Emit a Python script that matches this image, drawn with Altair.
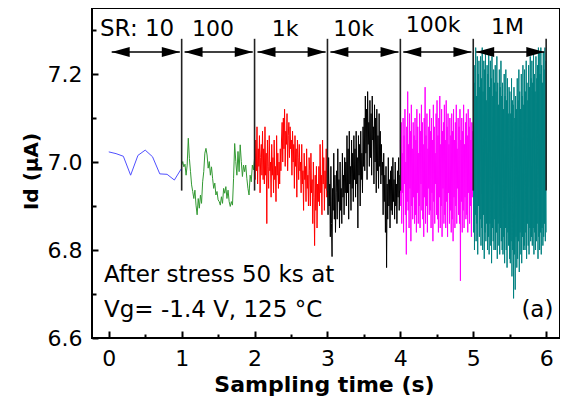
import altair as alt
import numpy as np
import pandas as pd

FONT = "DejaVu Sans"

# ---- data (Id in uA), one list per sampling-rate window ----
seg_names = ["10", "100", "1k", "10k", "100k", "1M"]
seg_colors = ["#5050ff", "#339933", "#ff0000", "#000000", "#ff00ff", "#008080"]

sr10 = [7.023, 7.019, 7.013, 6.970, 7.015, 7.027, 7.012, 6.973, 6.972, 6.959, 6.986]

sr100 = [6.993, 7.001, 6.989, 6.995, 6.970, 6.993, 7.054, 7.008, 6.978, 6.948, 6.933, 6.917,
         6.936, 6.902, 6.880, 6.917, 6.895, 6.925, 6.906, 6.955, 6.978, 7.020, 7.031, 7.016,
         6.986, 7.001, 6.970, 6.989, 6.963, 6.940, 6.952, 6.925, 6.933, 6.914, 6.910, 6.902,
         6.921, 6.906, 6.940, 6.929, 6.944, 6.917, 6.936, 6.910, 6.899, 6.910, 6.902, 6.963,
         7.042, 7.001, 6.970, 7.024, 6.978, 7.039, 7.001, 6.967, 6.993, 6.978, 6.993, 6.963,
         6.940, 6.925, 6.970, 6.955, 6.993, 6.982, 7.008]

sr1k = [7.02, 6.96, 7.05, 6.98, 7.08, 6.95, 7.03, 6.99, 7.06, 6.93, 7.01, 7.04, 6.97, 7.07, 6.96,
        7.03, 6.95, 7.08, 6.97, 7.02, 6.86, 7.05, 6.99, 6.94, 7.06, 6.98, 7.00, 6.92, 7.04, 6.97,
        7.01, 6.93, 7.05, 6.96, 6.99, 6.91, 7.06, 6.97, 7.02, 6.94, 7.00, 6.95, 7.03, 6.98, 7.05,
        7.09, 7.00, 7.10, 7.03, 7.12, 6.99, 7.07, 7.04, 7.11, 6.98, 7.06, 7.09, 7.01, 7.08, 7.03,
        7.05, 6.97, 7.07, 7.00, 7.04, 6.94, 7.06, 6.99, 7.03, 6.92, 7.05, 7.01, 6.96, 7.04, 6.98,
        7.00, 6.93, 7.04, 6.95, 6.98, 6.89, 7.02, 6.96, 6.99, 6.91, 7.03, 6.94, 6.97, 6.90, 7.01,
        6.98, 6.90, 7.02, 6.93, 6.96, 6.86, 7.00, 6.92, 6.81, 6.97, 6.89, 6.99, 6.85, 6.95, 6.91,
        6.99, 6.90, 7.04, 6.93, 6.97, 6.88, 7.05, 6.95, 7.01, 6.89, 6.98, 6.94, 7.03, 6.92, 6.96]

sr10k = [6.96, 6.88, 7.01, 6.90, 6.95, 6.83, 6.99, 6.86, 6.785, 6.94, 6.89, 7.02, 6.87, 6.97, 6.84, 6.93,
         6.98, 6.87, 7.03, 6.91, 6.96, 6.85, 7.00, 6.89, 6.94, 6.86, 7.02, 6.92, 6.97, 6.88, 7.01, 6.93,
         7.00, 6.90, 7.06, 6.93, 7.03, 6.87, 7.07, 6.95, 6.99, 6.89, 7.05, 6.94, 7.02, 6.91, 7.06, 6.96,
         7.03, 6.92, 7.07, 6.95, 7.01, 6.85, 7.06, 6.97, 7.04, 6.90, 7.07, 6.96, 7.02, 6.93, 7.08, 6.99,
         7.10, 6.98, 7.15, 7.02, 7.12, 6.96, 7.16, 7.04, 7.09, 6.99, 7.14, 7.01, 7.11, 6.97, 7.15, 7.05,
         7.08, 6.95, 7.13, 7.00, 7.10, 6.93, 7.12, 6.98, 7.06, 6.94, 7.11, 6.99, 7.07, 6.95, 7.04, 6.97,
         7.00, 6.88, 7.02, 6.91, 6.97, 6.84, 6.99, 6.76, 6.95, 6.87, 7.01, 6.90, 6.96, 6.85, 6.98, 6.89,
         6.99, 6.88, 7.01, 6.91, 6.96, 6.87, 7.00, 6.90, 6.95, 6.86, 6.98, 6.92, 7.01, 6.89, 6.97, 6.93]

sr100k = [7.05, 6.90, 7.09, 6.86, 7.02, 6.93, 7.10, 6.84, 7.06, 6.95, 7.12, 6.88, 7.00, 6.79, 7.08, 6.91,
          7.16, 6.89, 7.04, 6.85, 7.11, 6.94, 7.07, 6.82, 7.13, 6.90, 7.03, 6.87, 7.09, 6.92, 7.06, 6.86,
          7.10, 6.88, 7.05, 6.84, 7.12, 6.93, 7.08, 6.86, 7.02, 6.90, 7.11, 6.85, 7.07, 6.95, 7.13, 6.89,
          7.09, 6.87, 7.04, 6.83, 7.10, 6.92, 7.17, 6.86, 7.06, 6.90, 7.11, 6.84, 7.03, 6.94, 7.08, 6.88,
          7.12, 6.89, 7.07, 6.85, 7.10, 6.93, 7.05, 6.82, 7.13, 6.91, 7.08, 6.86, 7.02, 6.95, 7.11, 6.88,
          7.14, 6.87, 7.06, 6.84, 7.10, 6.92, 7.15, 6.85, 7.04, 6.90, 7.12, 6.83, 7.07, 6.94, 7.09, 6.86,
          7.13, 6.88, 7.05, 6.85, 7.14, 6.91, 7.08, 6.83, 7.11, 6.93, 7.04, 6.86, 7.10, 6.89, 7.06, 6.84,
          7.11, 6.87, 7.07, 6.82, 7.12, 6.92, 7.05, 6.85, 7.09, 6.90, 7.13, 6.86, 7.03, 6.94, 7.10, 6.88,
          7.08, 6.86, 7.12, 6.73, 7.05, 6.91, 7.10, 6.84, 7.07, 6.89, 7.13, 6.85, 7.04, 6.92, 7.09, 6.87,
          7.11, 6.88, 7.06, 6.84, 7.12, 6.93, 7.08, 6.86, 7.10, 6.90, 7.05, 6.83, 7.09, 6.92, 7.07, 6.95]

sr1M = [7.25, 6.84, 7.18, 6.80, 7.22, 6.88, 7.26, 6.82, 7.15, 6.86, 7.24, 6.79, 7.20, 6.90, 7.23, 6.83, 7.17, 6.87,
        7.24, 6.81, 7.19, 6.85, 7.26, 6.80, 7.16, 6.88, 7.23, 6.78, 7.21, 6.84, 7.25, 6.82, 7.14, 6.86, 7.22, 6.80,
        7.20, 6.83, 7.25, 6.79, 7.17, 6.86, 7.23, 6.81, 7.19, 6.77, 7.24, 6.85, 7.15, 6.82, 7.21, 6.80, 7.18, 6.87,
        7.22, 6.80, 7.16, 6.84, 7.24, 6.78, 7.18, 6.86, 7.13, 6.81, 7.21, 6.79, 7.17, 6.85, 7.23, 6.82, 7.15, 6.80,
        7.18, 6.79, 7.12, 6.83, 7.20, 6.77, 7.15, 6.85, 7.21, 6.80, 7.14, 6.76, 7.19, 6.84, 7.11, 6.81, 7.17, 6.78,
        7.16, 6.77, 7.11, 6.82, 7.19, 6.74, 7.14, 6.80, 7.13, 6.69, 7.17, 6.79, 7.10, 6.71, 7.15, 6.83, 7.12, 6.76,
        7.19, 6.78, 7.14, 6.82, 7.21, 6.75, 7.16, 6.84, 7.12, 6.79, 7.20, 6.77, 7.15, 6.83, 7.22, 6.80, 7.13, 6.81,
        7.21, 6.80, 7.16, 6.84, 7.23, 6.78, 7.18, 6.86, 7.14, 6.81, 7.22, 6.79, 7.17, 6.85, 7.24, 6.82, 7.19, 6.83,
        7.23, 6.81, 7.18, 6.85, 7.25, 6.79, 7.20, 6.84, 7.16, 6.80, 7.24, 6.82, 7.19, 6.86, 7.22, 6.78, 7.26, 6.83,
        7.25, 6.80, 7.20, 6.84, 7.26, 6.79, 7.22, 6.85, 7.18, 6.81, 7.25, 6.83, 7.21, 6.86, 7.26, 6.82, 7.23, 6.84]

segments = [sr10, sr100, sr1k, sr10k, sr100k, sr1M]

# window boundaries (s) and annotation texts
bounds = [0, 1, 2, 3, 4, 5, 6]
window_labels = ["100", "1k", "10k", "100k", "1M"]
window_label_x = [1.43, 2.42, 3.36, 4.45, 5.47]
window_label_y = [7.286, 7.286, 7.286, 7.295, 7.292]

x_ticks = [0, 1, 2, 3, 4, 5, 6]
x_minor = [0.5, 1.5, 2.5, 3.5, 4.5, 5.5]
y_ticks = [6.6, 6.8, 7.0, 7.2]
y_minor = [6.7, 6.9, 7.1, 7.3]

# ---- tables ----
rows = []
for i, (name, vals) in enumerate(zip(seg_names, segments)):
    ts = np.linspace(bounds[i], bounds[i + 1], len(vals))
    for t, v in zip(ts, vals):
        rows.append({"t": float(t), "v": v, "seg": name})
df = pd.DataFrame(rows)

vlines = pd.DataFrame({"x": bounds[1:], "y1": [6.935] * 6, "y2": [7.28] * 6})
arrows = pd.DataFrame({"x1": [b + 0.04 for b in bounds[:-1]],
                       "x2": [b + 0.975 for b in bounds[:-1]],
                       "y": [7.25] * 6})
wl = pd.DataFrame({"x": window_label_x, "y": window_label_y, "txt": window_labels})

W, H = 468, 330
xs = alt.Scale(domain=[-0.23, 6.19], nice=False, zero=False)
ys = alt.Scale(domain=[6.6, 7.35], nice=False, zero=False)

lines = alt.Chart(df).mark_line(clip=True).encode(
    x=alt.X("t:Q", scale=xs,
            axis=alt.Axis(orient="bottom", values=x_ticks, ticks=False, domain=False, grid=False,
                          labelFont=FONT, labelFontSize=22, labelColor="black", labelPadding=10,
                          title="Sampling time (s)", titleFont=FONT, titleFontSize=22,
                          titleFontWeight="bold", titleColor="black", titleX=232, titleY=53,
                          titleBaseline="alphabetic", titleAlign="center")),
    y=alt.Y("v:Q", scale=ys,
            axis=alt.Axis(orient="left", values=y_ticks, format=".1f", ticks=False, domain=False,
                          grid=False, labelFont=FONT, labelFontSize=22, labelColor="black",
                          labelPadding=10, title="Id (μA)", titleFont=FONT, titleFontSize=20,
                          titleFontWeight="bold", titleColor="black", titleX=-55, titleY=163,
                          titleAngle=270, titleBaseline="alphabetic", titleAlign="center")),
    color=alt.Color("seg:N", scale=alt.Scale(domain=seg_names, range=seg_colors), legend=None),
    strokeWidth=alt.StrokeWidth("seg:N", scale=alt.Scale(domain=seg_names,
                                                         range=[1, 1, 1.1, 1.1, 1.3, 1.6]),
                                legend=None),
)

rules = alt.Chart(vlines).mark_rule(color="#222222", strokeWidth=1.6).encode(
    x=alt.X("x:Q", scale=xs,
            axis=alt.Axis(orient="top", offset=-H, values=x_ticks, labels=False, domain=False,
                          grid=False, ticks=True, tickSize=7, tickWidth=2, tickColor="black",
                          title=None)),
    y=alt.Y("y1:Q", scale=ys,
            axis=alt.Axis(orient="right", offset=-W, values=y_ticks, labels=False, domain=False,
                          grid=False, ticks=True, tickSize=6, tickWidth=2, tickColor="black",
                          title=None)),
    y2="y2:Q",
)

shafts = alt.Chart(arrows).mark_rule(color="black", strokeWidth=1.5).encode(
    x=alt.X("x1:Q", scale=xs,
            axis=alt.Axis(orient="top", offset=-H, values=x_minor, labels=False, domain=False,
                          grid=False, ticks=True, tickSize=4, tickWidth=2, tickColor="black",
                          title=None)),
    x2="x2:Q",
    y=alt.Y("y:Q", scale=ys,
            axis=alt.Axis(orient="right", offset=-W, values=y_minor, labels=False, domain=False,
                          grid=False, ticks=True, tickSize=4, tickWidth=2, tickColor="black",
                          title=None)),
)

head_l = alt.Chart(arrows).mark_point(shape="M0,0L2,-0.55L2,0.55Z", filled=True, size=324,
                                      color="black", opacity=1, strokeWidth=0).encode(
    x=alt.X("x1:Q", scale=xs, axis=None), y=alt.Y("y:Q", scale=ys, axis=None))
head_r = alt.Chart(arrows).mark_point(shape="M0,0L-2,-0.55L-2,0.55Z", filled=True, size=324,
                                      color="black", opacity=1, strokeWidth=0).encode(
    x=alt.X("x2:Q", scale=xs, axis=None), y=alt.Y("y:Q", scale=ys, axis=None))

win_txt = alt.Chart(wl).mark_text(font=FONT, fontSize=22, align="center", baseline="alphabetic",
                                  color="black").encode(
    x=alt.X("x:Q", scale=xs, axis=None), y=alt.Y("y:Q", scale=ys, axis=None), text="txt:N")

def note(txt, x, y, align):
    return alt.Chart(pd.DataFrame({"x": [x], "y": [y], "txt": [txt]})).mark_text(
        font=FONT, fontSize=23, align=align, baseline="alphabetic", color="black").encode(
        x=alt.X("x:Q", scale=xs, axis=None), y=alt.Y("y:Q", scale=ys, axis=None), text="txt:N")

sr_txt = note("SR: 10", -0.12, 7.286, "left")
n1 = note("After stress 50 ks at", -0.065, 6.728, "left")
n2 = note("Vg= -1.4 V, 125 °C", -0.065, 6.648, "left")
n3 = note("(a)", 6.10, 6.648, "right")

chart = alt.layer(lines, rules, shafts, head_l, head_r, win_txt, sr_txt, n1, n2, n3).resolve_axis(
    x="independent", y="independent"
).properties(
    width=W, height=H,
    autosize=alt.AutoSizeParams(type="none"),
    padding={"left": 84, "top": 0, "right": 0, "bottom": 58},
).configure_view(stroke="black", strokeWidth=2)

chart.save("out.html", embed_options={"renderer": "svg", "actions": False})
